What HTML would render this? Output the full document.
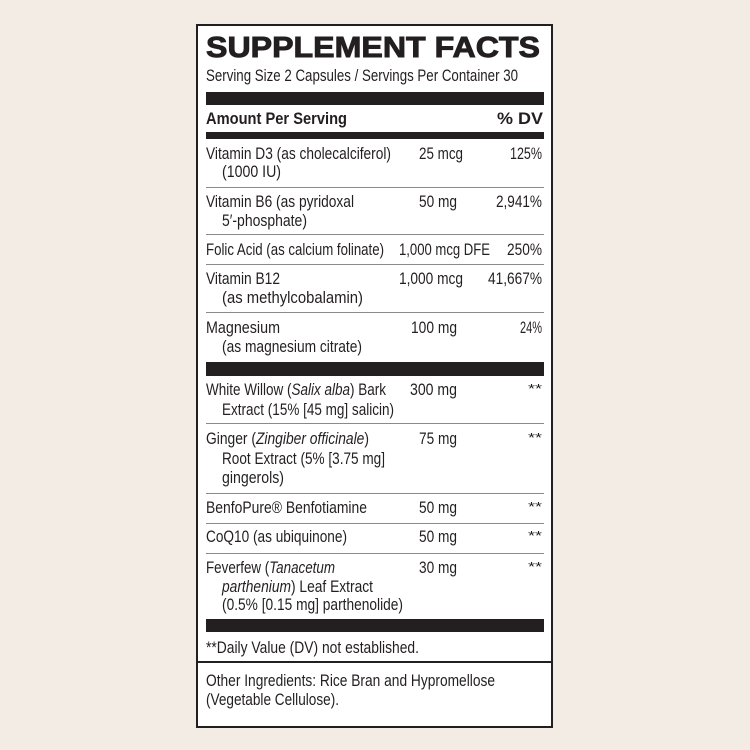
<!DOCTYPE html>
<html><head><meta charset="utf-8"><style>
html,body{margin:0;padding:0;background:#f3ece4;}
svg{display:block;}
text{font-family:"Liberation Sans",sans-serif;fill:#231f20;font-size:16.5px;}
.b{font-weight:bold;}
.a{font-size:13px;}
</style></head><body>
<svg width="750" height="750" viewBox="0 0 750 750" xmlns="http://www.w3.org/2000/svg">
<rect x="0" y="0" width="750" height="750" fill="#f3ece4"/>
<rect x="197" y="25" width="355" height="702" fill="#ffffff" stroke="#231f20" stroke-width="2"/>

<text x="206" y="57" class="b" style="font-size:29px;stroke:#231f20;stroke-width:0.9px" textLength="334" lengthAdjust="spacingAndGlyphs">SUPPLEMENT FACTS</text>
<text x="206" y="81" textLength="312" lengthAdjust="spacingAndGlyphs">Serving Size 2 Capsules / Servings Per Container 30</text>
<rect x="206" y="92" width="338" height="13" fill="#231f20"/>
<text x="206" y="124" class="b" textLength="141" lengthAdjust="spacingAndGlyphs">Amount Per Serving</text>
<text x="497" y="124" class="b" textLength="46" lengthAdjust="spacingAndGlyphs">% DV</text>
<rect x="206" y="132" width="338" height="7" fill="#231f20"/>

<text x="206" y="159" textLength="185" lengthAdjust="spacingAndGlyphs">Vitamin D3 (as cholecalciferol)</text>
<text x="222" y="177" textLength="59" lengthAdjust="spacingAndGlyphs">(1000 IU)</text>
<text x="419" y="159" textLength="44" lengthAdjust="spacingAndGlyphs">25 mcg</text>
<text x="510" y="159" textLength="32" lengthAdjust="spacingAndGlyphs">125%</text>
<rect x="206" y="187" width="338" height="1" fill="#8a8a8a"/>

<text x="206" y="207" textLength="148" lengthAdjust="spacingAndGlyphs">Vitamin B6 (as pyridoxal</text>
<text x="222" y="226" textLength="85" lengthAdjust="spacingAndGlyphs">5′-phosphate)</text>
<text x="419" y="207" textLength="38" lengthAdjust="spacingAndGlyphs">50 mg</text>
<text x="496" y="207" textLength="46" lengthAdjust="spacingAndGlyphs">2,941%</text>
<rect x="206" y="234" width="338" height="1" fill="#8a8a8a"/>

<text x="206" y="255" textLength="178" lengthAdjust="spacingAndGlyphs">Folic Acid (as calcium folinate)</text>
<text x="399" y="255" textLength="91" lengthAdjust="spacingAndGlyphs">1,000 mcg DFE</text>
<text x="507" y="255" textLength="35" lengthAdjust="spacingAndGlyphs">250%</text>
<rect x="206" y="264" width="338" height="1" fill="#8a8a8a"/>

<text x="206" y="284" textLength="74" lengthAdjust="spacingAndGlyphs">Vitamin B12</text>
<text x="222" y="303" textLength="141" lengthAdjust="spacingAndGlyphs">(as methylcobalamin)</text>
<text x="399" y="284" textLength="64" lengthAdjust="spacingAndGlyphs">1,000 mcg</text>
<text x="488" y="284" textLength="54" lengthAdjust="spacingAndGlyphs">41,667%</text>
<rect x="206" y="312" width="338" height="1" fill="#8a8a8a"/>

<text x="206" y="333" textLength="74" lengthAdjust="spacingAndGlyphs">Magnesium</text>
<text x="222" y="352" textLength="140" lengthAdjust="spacingAndGlyphs">(as magnesium citrate)</text>
<text x="411" y="333" textLength="46" lengthAdjust="spacingAndGlyphs">100 mg</text>
<text x="520" y="333" textLength="22" lengthAdjust="spacingAndGlyphs">24%</text>

<rect x="206" y="362" width="338" height="14" fill="#231f20"/>

<text x="206" y="395" textLength="180" lengthAdjust="spacingAndGlyphs">White Willow (<tspan font-style="italic">Salix alba</tspan>) Bark</text>
<text x="222" y="415" textLength="172" lengthAdjust="spacingAndGlyphs">Extract (15% [45 mg] salicin)</text>
<text x="410" y="395" textLength="47" lengthAdjust="spacingAndGlyphs">300 mg</text>
<text x="528" y="393" class="a" textLength="14" lengthAdjust="spacingAndGlyphs">**</text>
<rect x="206" y="423" width="338" height="1" fill="#8a8a8a"/>

<text x="206" y="444" textLength="163" lengthAdjust="spacingAndGlyphs">Ginger (<tspan font-style="italic">Zingiber officinale</tspan>)</text>
<text x="222" y="464" textLength="163" lengthAdjust="spacingAndGlyphs">Root Extract (5% [3.75 mg]</text>
<text x="222" y="483" textLength="62" lengthAdjust="spacingAndGlyphs">gingerols)</text>
<text x="419" y="444" textLength="38" lengthAdjust="spacingAndGlyphs">75 mg</text>
<text x="528" y="442" class="a" textLength="14" lengthAdjust="spacingAndGlyphs">**</text>
<rect x="206" y="493" width="338" height="1" fill="#8a8a8a"/>

<text x="206" y="513" textLength="161" lengthAdjust="spacingAndGlyphs">BenfoPure® Benfotiamine</text>
<text x="419" y="513" textLength="38" lengthAdjust="spacingAndGlyphs">50 mg</text>
<text x="528" y="511" class="a" textLength="14" lengthAdjust="spacingAndGlyphs">**</text>
<rect x="206" y="523" width="338" height="1" fill="#8a8a8a"/>

<text x="206" y="542" textLength="141" lengthAdjust="spacingAndGlyphs">CoQ10 (as ubiquinone)</text>
<text x="419" y="542" textLength="38" lengthAdjust="spacingAndGlyphs">50 mg</text>
<text x="528" y="540" class="a" textLength="14" lengthAdjust="spacingAndGlyphs">**</text>
<rect x="206" y="553" width="338" height="1" fill="#8a8a8a"/>

<text x="206" y="573" textLength="129" lengthAdjust="spacingAndGlyphs">Feverfew (<tspan font-style="italic">Tanacetum</tspan></text>
<text x="222" y="592" textLength="151" lengthAdjust="spacingAndGlyphs"><tspan font-style="italic">parthenium</tspan>) Leaf Extract</text>
<text x="222" y="610" textLength="181" lengthAdjust="spacingAndGlyphs">(0.5% [0.15 mg] parthenolide)</text>
<text x="419" y="573" textLength="38" lengthAdjust="spacingAndGlyphs">30 mg</text>
<text x="528" y="571" class="a" textLength="14" lengthAdjust="spacingAndGlyphs">**</text>

<rect x="206" y="619" width="338" height="13" fill="#231f20"/>
<text x="206" y="653" textLength="213" lengthAdjust="spacingAndGlyphs">**Daily Value (DV) not established.</text>
<rect x="198" y="661" width="353" height="2" fill="#231f20"/>
<text x="206" y="686" textLength="289" lengthAdjust="spacingAndGlyphs">Other Ingredients: Rice Bran and Hypromellose</text>
<text x="206" y="705" textLength="133" lengthAdjust="spacingAndGlyphs">(Vegetable Cellulose).</text>
</svg>
</body></html>
